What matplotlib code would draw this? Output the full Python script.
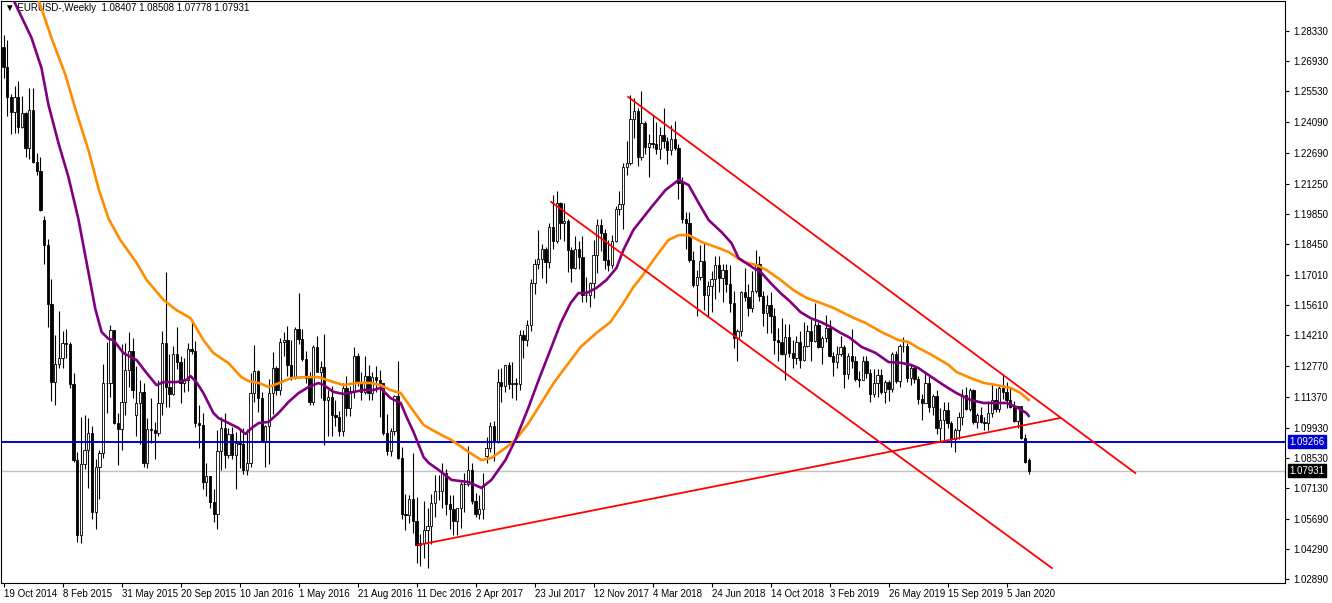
import matplotlib
matplotlib.use("Agg")
import matplotlib.pyplot as plt

plt.rcParams["font.family"] = ["Liberation Sans", "DejaVu Sans"]

# weekly EURUSD bars, first bar = week of 19 Oct 2014
week_open = [
    1.2760, 1.2668, 1.2525, 1.2456, 1.2526, 1.2388, 1.2451, 1.2288, 1.2465, 1.2226,
    1.2185, 1.1955, 1.1840, 1.1567, 1.1204, 1.1289, 1.1317, 1.1386, 1.1380, 1.1197,
    1.0844, 1.0495, 1.0823, 1.0890, 1.0970, 1.0603, 1.0808, 1.0873, 1.1198, 1.1202,
    1.1446, 1.1014, 1.0985, 1.1113, 1.1262, 1.1350, 1.1050, 1.1106, 1.1160, 1.0828,
    1.0985, 1.0982, 1.0970, 1.1107, 1.1387, 1.1182, 1.1150, 1.1336, 1.1295, 1.1199,
    1.1212, 1.1356, 1.1346, 1.1015, 1.1004, 1.0741, 1.0768, 1.0646, 1.0590, 1.0883,
    1.0990, 1.0867, 1.0964, 1.0866, 1.0923, 1.0917, 1.0794, 1.0830, 1.1155, 1.1257,
    1.1130, 1.0932, 1.0998, 1.1155, 1.1268, 1.1168, 1.1389, 1.1398, 1.1284, 1.1225,
    1.1452, 1.1403, 1.1309, 1.1221, 1.1111, 1.1367, 1.1253, 1.1276, 1.1120, 1.1135,
    1.1052, 1.1040, 1.0976, 1.1175, 1.1085, 1.1161, 1.1325, 1.1198, 1.1156, 1.1233,
    1.1154, 1.1227, 1.1212, 1.1200, 1.0970, 1.0882, 1.0978, 1.1139, 1.0850, 1.0590,
    1.0588, 1.0663, 1.0560, 1.0450, 1.0455, 1.0517, 1.0534, 1.0642, 1.0698, 1.0697,
    1.0782, 1.0640, 1.0616, 1.0560, 1.0620, 1.0731, 1.0733, 1.0798, 1.0652, 1.0590,
    1.0615, 1.0860, 1.0898, 1.0998, 1.0932, 1.1206, 1.1185, 1.1283, 1.1197, 1.1198,
    1.1195, 1.1424, 1.1398, 1.1469, 1.1665, 1.1752, 1.1773, 1.1822, 1.1760, 1.1923,
    1.1860, 1.2035, 1.1942, 1.1950, 1.1815, 1.1732, 1.1822, 1.1785, 1.1610, 1.1608,
    1.1663, 1.1794, 1.1935, 1.1895, 1.1770, 1.1749, 1.1860, 1.2005, 1.2030, 1.2200,
    1.2220, 1.2425, 1.2460, 1.2250, 1.2405, 1.2295, 1.2315, 1.2307, 1.2287, 1.2352,
    1.2322, 1.2280, 1.2330, 1.2290, 1.2130, 1.1960, 1.1940, 1.1770, 1.1655, 1.1690,
    1.1765, 1.1610, 1.1650, 1.1684, 1.1745, 1.1685, 1.1722, 1.1657, 1.1570, 1.1410,
    1.1440, 1.1620, 1.1600, 1.1550, 1.1625, 1.1750, 1.1605, 1.1525, 1.1560, 1.1510,
    1.1400, 1.1390, 1.1335, 1.1415, 1.1340, 1.1316, 1.1390, 1.1305, 1.1370, 1.1440,
    1.1395, 1.1470, 1.1365, 1.1410, 1.1455, 1.1325, 1.1295, 1.1335, 1.1365, 1.1240,
    1.1325, 1.1300, 1.1218, 1.1215, 1.1300, 1.1245, 1.1150, 1.1200, 1.1235, 1.1160,
    1.1205, 1.1170, 1.1335, 1.1210, 1.1370, 1.1370, 1.1225, 1.1270, 1.1220, 1.1125,
    1.1105, 1.1200, 1.1090, 1.1140, 1.0990, 1.1030, 1.1075, 1.1015, 1.0940, 1.0980,
    1.1040, 1.1145, 1.1080, 1.1165, 1.1020, 1.1050, 1.1020, 1.1015, 1.1060, 1.1120,
    1.1080, 1.1175, 1.1160, 1.1120, 1.1090, 1.1025, 1.1095, 1.0945, 1.08407,
]
week_high = [
    1.2815, 1.2789, 1.2540, 1.2576, 1.2601, 1.2530, 1.2456, 1.2570, 1.2568, 1.2265,
    1.2250, 1.1975, 1.1870, 1.1680, 1.1424, 1.1534, 1.1443, 1.1450, 1.1390, 1.1246,
    1.0880, 1.1043, 1.1052, 1.1035, 1.1000, 1.0849, 1.0888, 1.1290, 1.1391, 1.1467,
    1.1446, 1.1060, 1.1379, 1.1385, 1.1436, 1.1410, 1.1278, 1.1215, 1.1200, 1.1035,
    1.1128, 1.1020, 1.1214, 1.1440, 1.1714, 1.1332, 1.1370, 1.1460, 1.1325, 1.1318,
    1.1387, 1.1495, 1.1394, 1.1096, 1.1059, 1.0830, 1.0770, 1.0710, 1.0981, 1.1042,
    1.1060, 1.0993, 1.0995, 1.0972, 1.0985, 1.0990, 1.0985, 1.1246, 1.1376, 1.1260,
    1.1160, 1.1005, 1.1218, 1.1342, 1.1280, 1.1410, 1.1438, 1.1465, 1.1398, 1.1460,
    1.1616, 1.1448, 1.1346, 1.1250, 1.1377, 1.1416, 1.1300, 1.1427, 1.1165, 1.1185,
    1.1120, 1.1068, 1.1198, 1.1234, 1.1186, 1.1366, 1.1340, 1.1250, 1.1327, 1.1285,
    1.1250, 1.1280, 1.1258, 1.1200, 1.1058, 1.0989, 1.1146, 1.1300, 1.0905, 1.0685,
    1.0680, 1.0874, 1.0669, 1.0500, 1.0654, 1.0620, 1.0685, 1.0775, 1.0775, 1.0829,
    1.0800, 1.0680, 1.0680, 1.0620, 1.0740, 1.0782, 1.0906, 1.0830, 1.0690, 1.0680,
    1.0780, 1.0950, 1.1021, 1.1023, 1.1265, 1.1268, 1.1285, 1.1296, 1.1296, 1.1225,
    1.1446, 1.1445, 1.1490, 1.1682, 1.1777, 1.1910, 1.1845, 1.1830, 1.1940, 1.2070,
    1.2092, 1.2040, 1.2033, 1.1960, 1.1830, 1.1880, 1.1860, 1.1880, 1.1690, 1.1668,
    1.1862, 1.1962, 1.1961, 1.1915, 1.1863, 1.1887, 1.2023, 1.2089, 1.2220, 1.2323,
    1.2537, 1.2520, 1.2475, 1.2555, 1.2417, 1.2355, 1.2445, 1.2413, 1.2388, 1.2477,
    1.2340, 1.2396, 1.2414, 1.2310, 1.2155, 1.1995, 1.1995, 1.1810, 1.1725, 1.1840,
    1.1852, 1.1675, 1.1720, 1.1790, 1.1790, 1.1750, 1.1750, 1.1745, 1.1625, 1.1450,
    1.1625, 1.1734, 1.1660, 1.1720, 1.1815, 1.1790, 1.1625, 1.1610, 1.1620, 1.1550,
    1.1455, 1.1500, 1.1472, 1.1472, 1.1400, 1.1420, 1.1442, 1.1485, 1.1470, 1.1497,
    1.1570, 1.1485, 1.1420, 1.1515, 1.1490, 1.1345, 1.1372, 1.1420, 1.1375, 1.1340,
    1.1448, 1.1325, 1.1255, 1.1325, 1.1325, 1.1265, 1.1265, 1.1265, 1.1265, 1.1215,
    1.1215, 1.1345, 1.1348, 1.1380, 1.1412, 1.1385, 1.1285, 1.1285, 1.1230, 1.1150,
    1.1250, 1.1230, 1.1150, 1.1165, 1.1085, 1.1110, 1.1110, 1.1025, 1.0990, 1.1063,
    1.1170, 1.1180, 1.1175, 1.1170, 1.1060, 1.1090, 1.1040, 1.1115, 1.1200, 1.1175,
    1.1190, 1.1240, 1.1205, 1.1175, 1.1115, 1.1095, 1.1095, 1.0964, 1.08508,
]
week_low = [
    1.2614, 1.2440, 1.2357, 1.2359, 1.2360, 1.2385, 1.2247, 1.2240, 1.2222, 1.2165,
    1.2000, 1.1754, 1.1460, 1.1114, 1.1098, 1.1270, 1.1270, 1.1316, 1.1175, 1.0835,
    1.0462, 1.0457, 1.0802, 1.0712, 1.0570, 1.0521, 1.0662, 1.0850, 1.1061, 1.1135,
    1.1010, 1.0818, 1.0888, 1.1049, 1.1180, 1.1132, 1.0955, 1.0915, 1.0809, 1.0807,
    1.0923, 1.0848, 1.0955, 1.1050, 1.1087, 1.1087, 1.1145, 1.1263, 1.1105, 1.1160,
    1.1163, 1.1332, 1.0995, 1.0897, 1.0706, 1.0674, 1.0618, 1.0557, 1.0524, 1.0797,
    1.0804, 1.0850, 1.0846, 1.0710, 1.0804, 1.0776, 1.0775, 1.0811, 1.1110, 1.1067,
    1.0927, 1.0810, 1.0822, 1.1057, 1.1144, 1.1144, 1.1327, 1.1232, 1.1215, 1.1217,
    1.1381, 1.1300, 1.1201, 1.1097, 1.1098, 1.1251, 1.1130, 1.0912, 1.0952, 1.0952,
    1.1000, 1.0952, 1.0952, 1.1045, 1.1046, 1.1130, 1.1186, 1.1121, 1.1150, 1.1120,
    1.1122, 1.1160, 1.1040, 1.0960, 1.0866, 1.0860, 1.0960, 1.0845, 1.0569, 1.0518,
    1.0548, 1.0506, 1.0366, 1.0352, 1.0388, 1.0340, 1.0454, 1.0580, 1.0658, 1.0618,
    1.0588, 1.0520, 1.0494, 1.0495, 1.0525, 1.0600, 1.0720, 1.0640, 1.0580, 1.0570,
    1.0570, 1.0830, 1.0880, 1.0840, 1.0920, 1.1110, 1.1160, 1.1170, 1.1130, 1.1120,
    1.1165, 1.1314, 1.1371, 1.1440, 1.1612, 1.1728, 1.1688, 1.1662, 1.1733, 1.1823,
    1.1850, 1.1868, 1.1860, 1.1717, 1.1669, 1.1727, 1.1730, 1.1574, 1.1574, 1.1553,
    1.1592, 1.1710, 1.1810, 1.1730, 1.1718, 1.1735, 1.1855, 1.1977, 1.1915, 1.2165,
    1.2212, 1.2335, 1.2206, 1.2233, 1.2260, 1.2155, 1.2290, 1.2260, 1.2240, 1.2290,
    1.2215, 1.2257, 1.2283, 1.2055, 1.1940, 1.1823, 1.1762, 1.1646, 1.1510, 1.1678,
    1.1540, 1.1508, 1.1527, 1.1590, 1.1620, 1.1575, 1.1620, 1.1530, 1.1360, 1.1301,
    1.1420, 1.1580, 1.1510, 1.1527, 1.1617, 1.1580, 1.1462, 1.1432, 1.1432, 1.1335,
    1.1300, 1.1330, 1.1215, 1.1320, 1.1267, 1.1290, 1.1268, 1.1300, 1.1365, 1.1300,
    1.1390, 1.1360, 1.1290, 1.1390, 1.1320, 1.1233, 1.1270, 1.1325, 1.1176, 1.1220,
    1.1270, 1.1210, 1.1183, 1.1215, 1.1225, 1.1110, 1.1135, 1.1135, 1.1150, 1.1105,
    1.1115, 1.1160, 1.1200, 1.1180, 1.1345, 1.1205, 1.1192, 1.1200, 1.1100, 1.1027,
    1.1105, 1.1065, 1.1050, 1.0962, 1.0927, 1.0927, 1.0990, 1.0905, 1.0880, 1.0940,
    1.1005, 1.1075, 1.1070, 1.1010, 1.0990, 1.1015, 1.0980, 1.0980, 1.1040, 1.1065,
    1.1065, 1.1125, 1.1085, 1.1085, 1.1018, 1.0993, 1.0942, 1.0828, 1.07778,
]
week_close = [
    1.2668, 1.2525, 1.2456, 1.2526, 1.2388, 1.2451, 1.2288, 1.2465, 1.2226, 1.2185,
    1.2002, 1.1840, 1.1567, 1.1204, 1.1289, 1.1317, 1.1386, 1.1380, 1.1197, 1.0844,
    1.0495, 1.0823, 1.0890, 1.0970, 1.0603, 1.0808, 1.0873, 1.1198, 1.1202, 1.1446,
    1.1014, 1.0985, 1.1113, 1.1262, 1.1350, 1.1166, 1.1106, 1.1160, 1.0828, 1.0985,
    1.0982, 1.0970, 1.1107, 1.1387, 1.1182, 1.1150, 1.1336, 1.1295, 1.1199, 1.1212,
    1.1356, 1.1346, 1.1015, 1.1004, 1.0741, 1.0768, 1.0646, 1.0590, 1.0883, 1.0990,
    1.0867, 1.0964, 1.0866, 1.0923, 1.0917, 1.0794, 1.0830, 1.1155, 1.1257, 1.1130,
    1.0932, 1.0998, 1.1155, 1.1268, 1.1168, 1.1389, 1.1398, 1.1284, 1.1225, 1.1452,
    1.1403, 1.1309, 1.1221, 1.1111, 1.1367, 1.1253, 1.1276, 1.1120, 1.1135, 1.1052,
    1.1040, 1.0976, 1.1175, 1.1085, 1.1161, 1.1325, 1.1198, 1.1156, 1.1233, 1.1154,
    1.1227, 1.1212, 1.1200, 1.0970, 1.0882, 1.0978, 1.1139, 1.0850, 1.0590, 1.0588,
    1.0663, 1.0560, 1.0450, 1.0455, 1.0517, 1.0534, 1.0642, 1.0698, 1.0697, 1.0782,
    1.0640, 1.0616, 1.0560, 1.0620, 1.0731, 1.0733, 1.0798, 1.0652, 1.0590, 1.0615,
    1.0727, 1.0898, 1.0998, 1.0932, 1.1206, 1.1185, 1.1283, 1.1197, 1.1198, 1.1195,
    1.1424, 1.1398, 1.1469, 1.1665, 1.1752, 1.1773, 1.1822, 1.1760, 1.1923, 1.1860,
    1.2035, 1.1942, 1.1950, 1.1815, 1.1732, 1.1822, 1.1785, 1.1610, 1.1608, 1.1663,
    1.1794, 1.1935, 1.1895, 1.1770, 1.1749, 1.1860, 1.2005, 1.2030, 1.2200, 1.2220,
    1.2425, 1.2460, 1.2250, 1.2405, 1.2295, 1.2315, 1.2307, 1.2287, 1.2352, 1.2322,
    1.2280, 1.2330, 1.2290, 1.2130, 1.1960, 1.1940, 1.1770, 1.1655, 1.1690, 1.1765,
    1.1610, 1.1650, 1.1684, 1.1745, 1.1685, 1.1722, 1.1657, 1.1570, 1.1410, 1.1440,
    1.1620, 1.1600, 1.1550, 1.1625, 1.1750, 1.1605, 1.1525, 1.1560, 1.1510, 1.1400,
    1.1390, 1.1335, 1.1415, 1.1340, 1.1316, 1.1390, 1.1305, 1.1370, 1.1440, 1.1395,
    1.1470, 1.1365, 1.1410, 1.1455, 1.1325, 1.1295, 1.1335, 1.1365, 1.1240, 1.1325,
    1.1300, 1.1218, 1.1215, 1.1300, 1.1245, 1.1150, 1.1200, 1.1235, 1.1160, 1.1205,
    1.1170, 1.1335, 1.1210, 1.1370, 1.1370, 1.1225, 1.1270, 1.1220, 1.1125, 1.1105,
    1.1200, 1.1090, 1.1140, 1.0990, 1.1030, 1.1075, 1.1015, 1.0940, 1.0980, 1.1040,
    1.1145, 1.1080, 1.1165, 1.1020, 1.1050, 1.1020, 1.1015, 1.1060, 1.1120, 1.1080,
    1.1175, 1.1160, 1.1120, 1.1090, 1.1025, 1.1095, 1.0945, 1.0835, 1.07931,
]

# moving averages: (bar number, price)
ma_purple = [
    (0, 1.3074), (2.7, 1.2977), (7.6, 1.2801), (10.3, 1.2661), (12.2, 1.2490),
    (14.9, 1.2313), (17.6, 1.2156), (20.3, 1.1961), (22.2, 1.1789), (24.9, 1.1543),
    (26.6, 1.1436), (28.5, 1.1404), (29.8, 1.1399), (32.5, 1.1339), (36.1, 1.1306),
    (38.8, 1.1246), (41.5, 1.1190), (43.4, 1.1204), (46.9, 1.1204), (49.6, 1.1214),
    (50.7, 1.1232), (52.3, 1.1204), (54.2, 1.1153), (56.9, 1.1061), (58.3, 1.1037),
    (61.0, 1.1014), (63.7, 1.0991), (65.6, 1.0963), (67.3, 1.0991), (69.2, 1.1014),
    (71.9, 1.1019), (74.6, 1.1061), (77.3, 1.1112), (80.0, 1.1153), (82.7, 1.1181),
    (85.4, 1.1200), (86.8, 1.1190), (89.5, 1.1158), (92.2, 1.1149), (94.9, 1.1158),
    (97.6, 1.1167), (100.3, 1.1167), (102.2, 1.1177), (104.9, 1.1130), (107.7, 1.1107),
    (109.3, 1.1042), (111.2, 1.0972), (113.9, 1.0856), (115.3, 1.0829), (118.0, 1.0796),
    (121.5, 1.0750), (126.1, 1.0740), (129.6, 1.0713), (132.3, 1.0750), (136.1, 1.0842),
    (138.8, 1.0935), (142.4, 1.1088), (145.1, 1.1213), (148.6, 1.1367), (151.1, 1.1478),
    (153.8, 1.1571), (155.9, 1.1617), (158.1, 1.1617), (160.8, 1.1641), (163.5, 1.1678),
    (166.2, 1.1733), (168.1, 1.1817), (170.8, 1.1910), (175.7, 1.2016), (179.5, 1.2095),
    (183.1, 1.2142), (185.8, 1.2118), (188.5, 1.2035), (191.2, 1.1956), (194.7, 1.1900),
    (197.4, 1.1849), (199.3, 1.1780), (203.4, 1.1733), (205.3, 1.1715), (208.0, 1.1664),
    (210.7, 1.1617), (213.4, 1.1576), (216.1, 1.1529), (218.8, 1.1501), (221.6, 1.1483),
    (224.3, 1.1460), (227.0, 1.1432), (229.2, 1.1413), (232.7, 1.1367), (236.5, 1.1339),
    (240.0, 1.1297), (243.5, 1.1293), (246.2, 1.1283), (248.1, 1.1269), (251.7, 1.1227),
    (254.9, 1.1190), (258.4, 1.1153), (262.2, 1.1121), (265.8, 1.1107), (269.3, 1.1107),
    (272.0, 1.1107), (274.7, 1.1088), (277.4, 1.1060), (278, 1.1047),
]
ma_orange = [
    (0, 1.3450), (9.5, 1.2977), (13.0, 1.2801), (16.8, 1.2629), (19.5, 1.2471),
    (23.1, 1.2276), (25.8, 1.2100), (28.5, 1.1961), (31.7, 1.1863), (36.1, 1.1757),
    (38.8, 1.1678), (43.4, 1.1585), (46.9, 1.1538), (50.7, 1.1501), (54.2, 1.1399),
    (56.9, 1.1339), (61.0, 1.1292), (64.5, 1.1227), (66.4, 1.1209), (69.2, 1.1200),
    (71.9, 1.1181), (75.4, 1.1204), (78.1, 1.1223), (81.9, 1.1227), (85.4, 1.1227),
    (89.5, 1.1204), (92.2, 1.1190), (95.7, 1.1200), (99.5, 1.1200), (102.2, 1.1190),
    (104.9, 1.1167), (107.7, 1.1153), (110.4, 1.1088), (113.9, 1.1005), (115.3, 1.0991),
    (118.8, 1.0958), (121.5, 1.0935), (126.1, 1.0880), (129.6, 1.0842), (132.3, 1.0852),
    (136.1, 1.0898), (138.8, 1.0935), (142.4, 1.1014), (149.2, 1.1200), (156.5, 1.1367),
    (160.8, 1.1432), (164.6, 1.1483), (168.1, 1.1571), (170.8, 1.1645), (173.0, 1.1692),
    (176.8, 1.1784), (180.3, 1.1863), (183.1, 1.1886), (185.8, 1.1886), (189.3, 1.1854),
    (193.1, 1.1831), (196.6, 1.1808), (200.7, 1.1761), (204.2, 1.1747), (206.9, 1.1724),
    (210.7, 1.1678), (214.2, 1.1631), (217.8, 1.1594), (221.6, 1.1571), (225.1, 1.1548),
    (230.0, 1.1506), (233.8, 1.1478), (238.1, 1.1436), (242.7, 1.1399), (245.4, 1.1390),
    (248.1, 1.1362), (251.7, 1.1330), (256.3, 1.1283), (258.4, 1.1251), (262.2, 1.1223),
    (265.8, 1.1200), (269.3, 1.1190), (273.1, 1.1177), (275.8, 1.1153), (278, 1.1121),
]

# hand-drawn trend lines: (bar, price) -> (bar, price)
trend_lines = [
    [(169.4, 1.2527), (306.9, 1.0782)],
    [(148.5, 1.2040), (284.3, 1.0341)],
    [(112.4, 1.0448), (286.5, 1.1037)],
]
level_blue = 1.09266
level_last = 1.07931

price_ticks = [1.28330, 1.26930, 1.25530, 1.24090, 1.22690, 1.21250, 1.19850,
               1.18450, 1.17010, 1.15610, 1.14210, 1.12770, 1.11370, 1.09930,
               1.08530, 1.07130, 1.05690, 1.04290, 1.02890]
date_tick_bars = [0, 16, 32, 48, 64, 80, 96, 112, 128, 144, 160, 176, 192,
                  208, 224, 240, 256, 272]
date_tick_labels = ["19 Oct 2014", "8 Feb 2015", "31 May 2015", "20 Sep 2015",
                    "10 Jan 2016", "1 May 2016", "21 Aug 2016", "11 Dec 2016",
                    "2 Apr 2017", "23 Jul 2017", "12 Nov 2017", "4 Mar 2018",
                    "24 Jun 2018", "14 Oct 2018", "3 Feb 2019", "26 May 2019",
                    "15 Sep 2019", "5 Jan 2020"]
header = "\u25bc EURUSD-,Weekly  1.08407 1.08508 1.07778 1.07931"

W, H = 1332, 603
fig = plt.figure(figsize=(W / 100, H / 100), dpi=100)
ax = fig.add_axes([1 / W, 20 / H, 1284 / W, 582 / H])

bars = range(len(week_close))
for b, o, h, l, c in zip(bars, week_open, week_high, week_low, week_close):
    ax.vlines(b, l, h, color="black", linewidth=0.8, zorder=2)
    body = max(abs(c - o), 0.0002)
    ax.bar(b, body, bottom=min(o, c), width=0.62,
           color="white" if c >= o else "black",
           edgecolor="black", linewidth=0.6, zorder=3)

ax.axhline(level_last, color="#c0c0c0", linewidth=1.0, zorder=1)
ax.axhline(level_blue, color="#0000cd", linewidth=1.4, zorder=5)

ax.plot([p[0] for p in ma_orange], [p[1] for p in ma_orange],
        color="#ff8c00", linewidth=1.9, zorder=6)
ax.plot([p[0] for p in ma_purple], [p[1] for p in ma_purple],
        color="#800080", linewidth=1.9, zorder=6)
for line in trend_lines:
    ax.plot([p[0] for p in line], [p[1] for p in line],
            color="#ff0000", linewidth=1.3, zorder=7)

ax.text(0.003, 0.997, header, transform=ax.transAxes, ha="left", va="top",
        fontsize=7, zorder=4)

ax.set_xlim(-0.68, 347.5)
ax.set_ylim(1.02717, 1.29722)

ax.yaxis.tick_right()
ax.set_yticks(price_ticks)
ax.set_yticklabels([f"{p:.5f}" for p in price_ticks])
ax.set_xticks(date_tick_bars)
ax.set_xticklabels(date_tick_labels, ha="left")
ax.tick_params(axis="both", labelsize=7, length=3, width=0.8, pad=3,
               colors="black")
ax.tick_params(axis="x", pad=1)
for s in ax.spines.values():
    s.set_linewidth(0.8)

for level, bg in [(level_blue, "#0000cd"), (level_last, "black")]:
    ax.annotate(f"{level:.5f}", xy=(1, level), xycoords=("axes fraction", "data"),
                xytext=(3, 0), textcoords="offset points", ha="left", va="center",
                fontsize=7, color="white", annotation_clip=False,
                bbox=dict(boxstyle="square,pad=0.15", fc=bg, ec=bg))

fig.savefig("out.png", dpi=100)
